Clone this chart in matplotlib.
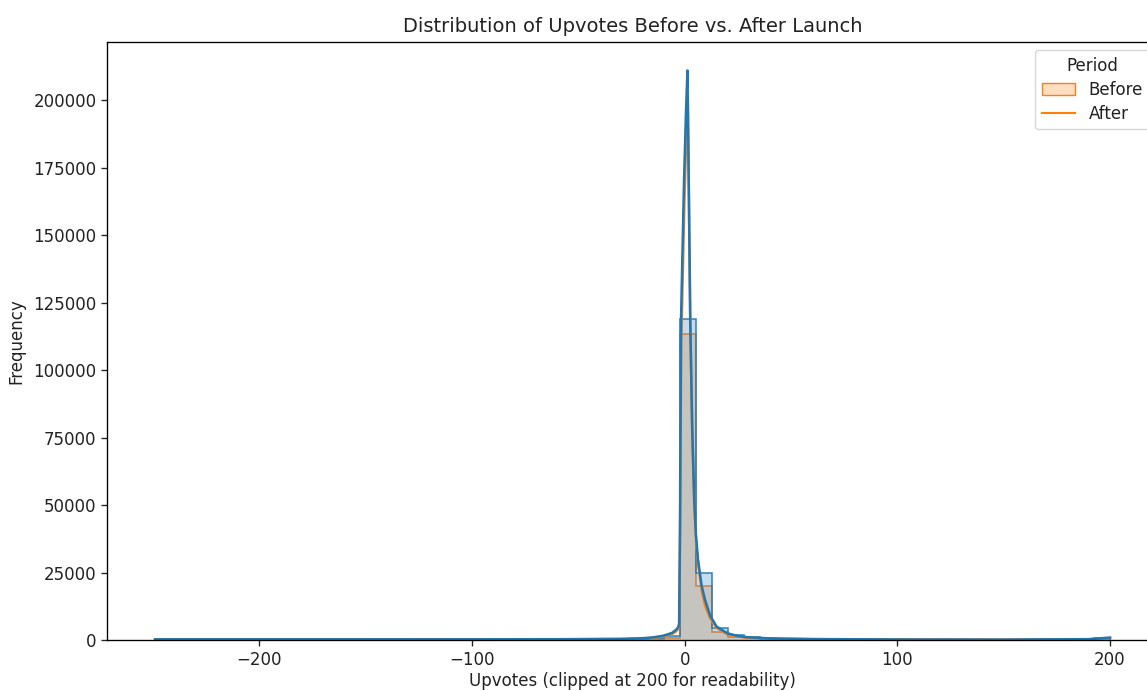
import numpy as np
import matplotlib
matplotlib.use("Agg")
import matplotlib.pyplot as plt
from matplotlib.patches import Patch
from matplotlib.lines import Line2D
from matplotlib.colors import to_rgba

# histogram bins (60 bins, data clipped at 200)
bin_lo, bin_hi, n_bins = -249, 200, 60

before_counts = [45, 20, 18, 15, 15, 14, 14, 15, 15, 16,
                 16, 17, 18, 18, 20, 20, 22, 24, 25, 28,
                 30, 34, 38, 45, 55, 70, 90, 120, 170, 250,
                 420, 700, 1300, 119000, 24800, 4400, 1700, 950, 600, 420,
                 320, 260, 210, 180, 160, 140, 125, 110, 100, 92,
                 85, 80, 75, 70, 66, 62, 60, 58, 56, 700]
after_counts = [35, 15, 14, 12, 12, 11, 11, 12, 12, 13,
                13, 14, 14, 15, 16, 16, 18, 19, 20, 22,
                24, 27, 30, 36, 44, 55, 70, 95, 130, 180,
                300, 500, 900, 113300, 20000, 3000, 1200, 700, 450, 320,
                250, 200, 165, 140, 125, 110, 98, 88, 80, 74,
                68, 64, 60, 56, 53, 50, 48, 46, 45, 500]

# kde curves (already scaled to counts)
before_kde_x = [-249, -150, -100, -60, -30, -20, -15, -10, -6, -4, -3, -2.6, -2.2, -1.7,
                -0.3, 0.6, 1.3, 2.0, 2.6, 3.5, 4.5, 5.3, 6.3, 8, 9.6, 12, 15, 20, 25,
                30, 40, 60, 100, 150, 190, 200]
before_kde_y = [250, 250, 260, 300, 420, 650, 950, 1600, 2600, 3800, 4800, 6000, 40000, 119000,
                170000, 195000, 211000, 165000, 119000, 80000, 52000, 39000, 29600, 20000, 14800, 9000, 5000, 2500, 1500,
                1000, 600, 350, 200, 160, 320, 900]
after_kde_x = [-249, -150, -100, -60, -30, -20, -15, -10, -6, -4, -3, -2.6, -2.2, -1.6,
               -0.2, 0.7, 1.5, 2.1, 2.8, 3.7, 4.7, 5.5, 6.5, 8, 9.5, 12, 15, 20, 25,
               30, 40, 60, 100, 150, 190, 200]
after_kde_y = [200, 200, 210, 250, 350, 550, 800, 1300, 2200, 3200, 4200, 5200, 35000, 110000,
               160000, 185000, 200000, 155000, 110000, 72000, 47000, 35000, 27000, 18500, 13000, 8000, 4500, 2200, 1300,
               850, 520, 300, 180, 140, 260, 700]

edges = np.linspace(bin_lo, bin_hi, n_bins + 1)

# reference looks like a larger render scaled down, so bump sizes ~1.2x
plt.rcParams.update({
    "font.size": 12,
    "axes.titlesize": 14,
    "axes.linewidth": 0.96,
    "xtick.major.width": 0.96,
    "ytick.major.width": 0.96,
    "xtick.major.size": 4.2,
    "ytick.major.size": 4.2,
    "legend.fontsize": 12,
    "legend.title_fontsize": 12,
    "text.color": "#222222",
    "xtick.color": "#222222",
    "ytick.color": "#222222",
    "axes.labelcolor": "#222222",
})

fig = plt.figure(figsize=(11.47, 6.91), dpi=100)
ax = fig.add_axes([107.3 / 1147, 51 / 691, (1157.8 - 107.3) / 1147, 598 / 691])

layers = [("C1", after_counts, after_kde_x, after_kde_y),
          ("C0", before_counts, before_kde_x, before_kde_y)]
for color, counts, kx, ky in layers:
    ax.stairs(counts, edges, fill=True, color=to_rgba(color, 0.25), linewidth=0)
    ax.stairs(counts, edges, baseline=0, color=to_rgba(color, 0.85), linewidth=1.2)
    ax.plot(kx, ky, color=color, linewidth=1.8)

ax.set_xlim(-271.45, 222.45)
ax.set_ylim(0, 221550)
ax.set_title("Distribution of Upvotes Before vs. After Launch", pad=7)
ax.set_xlabel("Upvotes (clipped at 200 for readability)", labelpad=2.5)
ax.set_ylabel("Frequency", labelpad=6)

handles = [Patch(facecolor=to_rgba("C1", 0.25), edgecolor="C1"),
           Line2D([], [], color="C1")]
ax.legend(handles, ["Before", "After"], title="Period", loc="upper right",
          labelspacing=0.35)

fig.savefig("out.png", dpi=100)
